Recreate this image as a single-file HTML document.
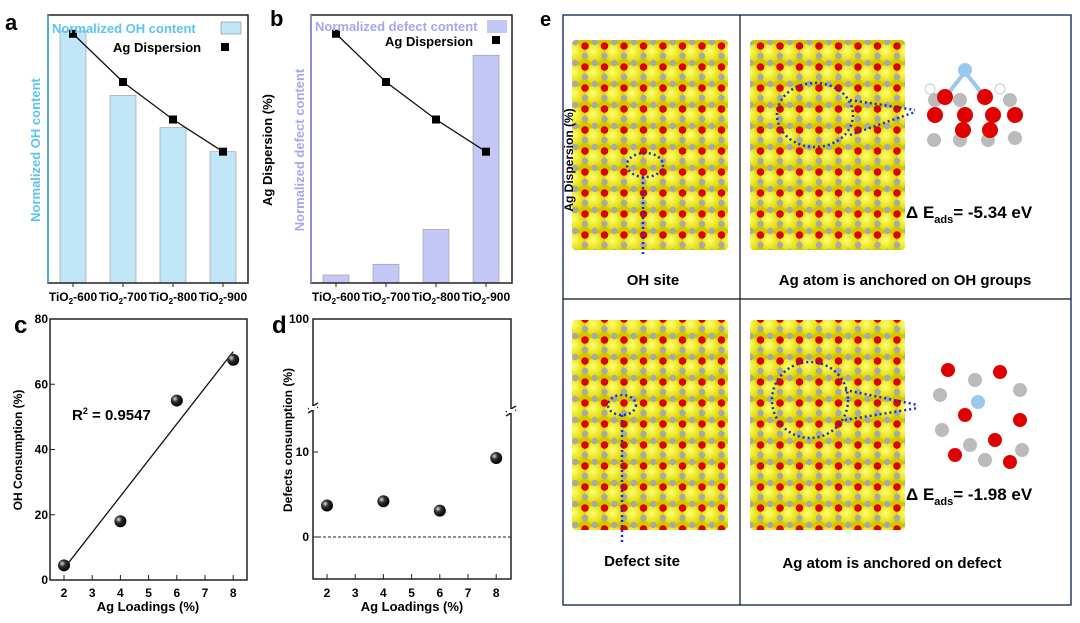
<!DOCTYPE html>
<html><head><meta charset="utf-8"><style>
html,body{margin:0;padding:0;background:#fff}
svg{display:block;font-family:"Liberation Sans",Arial,sans-serif}
</style></head><body>
<svg id="s" width="1080" height="623" viewBox="0 0 1080 623" xmlns="http://www.w3.org/2000/svg">
<defs>
<radialGradient id="ball" cx="35%" cy="35%" r="65%"><stop offset="0" stop-color="#ddd"/><stop offset="0.4" stop-color="#333"/><stop offset="1" stop-color="#000"/></radialGradient>
<radialGradient id="yel" cx="40%" cy="40%" r="60%"><stop offset="0" stop-color="#ffff70"/><stop offset="1" stop-color="#e0d800"/></radialGradient>
<pattern id="slab" x="0" y="0" width="19.5" height="21" patternUnits="userSpaceOnUse">
<rect width="19.5" height="21" fill="#cfc800"/>
<circle cx="9.75" cy="11" r="9.5" fill="url(#yel)"/>
<circle cx="0" cy="4" r="3.8" fill="#e00000"/>
<circle cx="19.5" cy="4" r="3.8" fill="#e00000"/>
<circle cx="0" cy="14" r="3.2" fill="#a8a8a8"/>
<circle cx="19.5" cy="14" r="3.2" fill="#a8a8a8"/>
<circle cx="9.75" cy="0" r="3.2" fill="#a8a8a8"/>
<circle cx="9.75" cy="21" r="3.2" fill="#a8a8a8"/>
</pattern>
</defs>

<!-- Panel a -->
<g>
<text x="5" y="30" font-size="22" font-weight="bold">a</text>
<g id="a-bars"></g>
<rect x="48" y="15" width="200" height="268" fill="none" stroke="#222" stroke-width="1.5"/>
<line x1="48" y1="15" x2="48" y2="283" stroke="#3bb0e8" stroke-width="1.5"/>
<g id="a-line"></g>
<text x="52" y="33" font-size="13" font-weight="bold" fill="#5cc4f0">Normalized OH content</text>
<rect x="221" y="22" width="20" height="12" fill="#c0e6f8" stroke="#888" stroke-width="0.6"/>
<text x="113" y="52" font-size="13" font-weight="bold">Ag Dispersion</text>
<rect x="221" y="43" width="8" height="8" fill="#000"/>
<text transform="translate(40,150) rotate(-90)" text-anchor="middle" font-size="13" font-weight="bold" fill="#5cc4f0">Normalized OH content</text>
<text transform="translate(272,150) rotate(-90)" text-anchor="middle" font-size="13" font-weight="bold">Ag Dispersion (%)</text>
<g id="a-xt" font-size="12" font-weight="bold" text-anchor="middle"></g>
</g>

<!-- Panel b -->
<g>
<text x="270" y="26" font-size="22" font-weight="bold">b</text>
<g id="b-bars"></g>
<rect x="311" y="15" width="201" height="268" fill="none" stroke="#222" stroke-width="1.5"/>
<line x1="311" y1="15" x2="311" y2="283" stroke="#8d8df0" stroke-width="1.5"/>
<g id="b-line"></g>
<text x="315" y="31" font-size="13" font-weight="bold" fill="#a6a6f2">Normalized defect content</text>
<rect x="487" y="20" width="20" height="13" fill="#c4c8f6"/>
<text x="385" y="46" font-size="13" font-weight="bold">Ag Dispersion</text>
<rect x="492" y="36" width="8" height="8" fill="#000"/>
<text transform="translate(304,150) rotate(-90)" text-anchor="middle" font-size="13" font-weight="bold" fill="#a6a6f2">Normalized defect content</text>
<g id="b-xt" font-size="12" font-weight="bold" text-anchor="middle"></g>
</g>

<!-- Panel c -->
<g>
<text x="14" y="333" font-size="24" font-weight="bold">c</text>
<rect x="50" y="319" width="197" height="261" fill="none" stroke="#222" stroke-width="1.5"/>
<g id="c-ax" font-size="12" font-weight="bold"></g>
<g id="c-marks"></g>
<text x="72" y="420" font-size="15" font-weight="bold">R<tspan dy="-6" font-size="9">2</tspan><tspan dy="6"> = 0.9547</tspan></text>
<text transform="translate(22,450) rotate(-90)" text-anchor="middle" font-size="12" font-weight="bold">OH Consumption (%)</text>
<text x="148" y="611" text-anchor="middle" font-size="13" font-weight="bold">Ag Loadings (%)</text>
</g>

<!-- Panel d -->
<g>
<text x="272" y="333" font-size="24" font-weight="bold">d</text>
<rect x="313" y="319" width="198" height="260" fill="none" stroke="#222" stroke-width="1.5"/>
<line x1="308" y1="409" x2="318" y2="403" stroke="#222" stroke-width="1.5"/><line x1="308" y1="413" x2="318" y2="407" stroke="#222" stroke-width="1.5"/>
<line x1="506" y1="412" x2="516" y2="406" stroke="#222" stroke-width="1.5"/><line x1="506" y1="416" x2="516" y2="410" stroke="#222" stroke-width="1.5"/>
<rect x="309" y="406" width="8" height="4" fill="#fff"/><rect x="507" y="409" width="8" height="4" fill="#fff"/>
<g id="d-ax" font-size="12" font-weight="bold"></g>
<g id="d-marks"></g>
<text transform="translate(292,440) rotate(-90)" text-anchor="middle" font-size="12" font-weight="bold">Defects consumption (%)</text>
<text x="412" y="611" text-anchor="middle" font-size="13" font-weight="bold">Ag Loadings (%)</text>
</g>

<!-- Panel e -->
<g>
<text x="540" y="26" font-size="20" font-weight="bold">e</text>
<rect x="563" y="15" width="508" height="590" fill="none" stroke="#2a3a6a" stroke-width="1.5"/>
<line x1="740" y1="15" x2="740" y2="605" stroke="#111" stroke-width="1.2"/>
<line x1="563" y1="299" x2="1071" y2="299" stroke="#111" stroke-width="1.2"/>
<rect x="572" y="40" width="156" height="210" fill="url(#slab)" rx="4"/>
<rect x="750" y="40" width="155" height="210" fill="url(#slab)" rx="4"/>
<rect x="572" y="320" width="156" height="210" fill="url(#slab)" rx="4"/>
<rect x="750" y="320" width="155" height="210" fill="url(#slab)" rx="4"/>
<text transform="translate(573,160) rotate(-90)" text-anchor="middle" font-size="12" font-weight="bold">Ag Dispersion (%)</text>
<g fill="none" stroke="#1a2fd0" stroke-width="2.5" stroke-dasharray="2,3">
<ellipse cx="645" cy="165" rx="18" ry="12"/><line x1="643" y1="177" x2="643" y2="255"/>
<ellipse cx="815" cy="115" rx="38" ry="32"/><line x1="850" y1="100" x2="915" y2="110"/><line x1="850" y1="135" x2="915" y2="112"/>
<ellipse cx="622" cy="405" rx="14" ry="10"/><line x1="622" y1="415" x2="622" y2="545"/>
<ellipse cx="810" cy="400" rx="38" ry="38"/><line x1="845" y1="390" x2="918" y2="405"/><line x1="845" y1="420" x2="918" y2="408"/>
</g>
<g>
<line x1="943" y1="100" x2="965" y2="72" stroke="#9cc8ec" stroke-width="4"/><line x1="987" y1="100" x2="965" y2="72" stroke="#9cc8ec" stroke-width="4"/>
<circle cx="935" cy="100" r="7" fill="#bbb"/><circle cx="960" cy="100" r="7" fill="#bbb"/><circle cx="1010" cy="100" r="7" fill="#bbb"/>
<circle cx="934" cy="140" r="7" fill="#bbb"/><circle cx="960" cy="140" r="7" fill="#bbb"/><circle cx="988" cy="140" r="7" fill="#bbb"/><circle cx="1015" cy="138" r="7" fill="#bbb"/>
<circle cx="935" cy="115" r="8" fill="#e00000"/><circle cx="965" cy="115" r="8" fill="#e00000"/><circle cx="993" cy="115" r="8" fill="#e00000"/><circle cx="1015" cy="115" r="8" fill="#e00000"/>
<circle cx="963" cy="130" r="8" fill="#e00000"/><circle cx="990" cy="130" r="8" fill="#e00000"/>
<circle cx="945" cy="97" r="8" fill="#e00000"/><circle cx="985" cy="97" r="8" fill="#e00000"/>
<circle cx="930" cy="89" r="5" fill="#fff" stroke="#ccc"/><circle cx="1000" cy="89" r="5" fill="#fff" stroke="#ccc"/>
<circle cx="965" cy="70" r="7" fill="#9cc8ec"/>
</g>
<g>
<circle cx="948" cy="370" r="7" fill="#e00000"/><circle cx="975" cy="380" r="7" fill="#bbb"/><circle cx="1000" cy="372" r="7" fill="#e00000"/><circle cx="1020" cy="390" r="7" fill="#bbb"/>
<circle cx="940" cy="395" r="7" fill="#bbb"/><circle cx="965" cy="415" r="7" fill="#e00000"/><circle cx="1020" cy="420" r="7" fill="#e00000"/>
<circle cx="942" cy="430" r="7" fill="#bbb"/><circle cx="970" cy="445" r="7" fill="#bbb"/><circle cx="995" cy="440" r="7" fill="#e00000"/><circle cx="1022" cy="450" r="7" fill="#bbb"/>
<circle cx="955" cy="455" r="7" fill="#e00000"/><circle cx="1010" cy="462" r="7" fill="#e00000"/><circle cx="985" cy="460" r="7" fill="#bbb"/>
<circle cx="978" cy="402" r="7" fill="#9cc8ec"/>
</g>
<text x="653" y="285" text-anchor="middle" font-size="15" font-weight="bold">OH site</text>
<text x="905" y="285" text-anchor="middle" font-size="15" font-weight="bold">Ag atom is anchored on OH groups</text>
<text x="906" y="218" font-size="17" font-weight="bold">Δ E<tspan dy="5" font-size="11">ads</tspan><tspan dy="-5">= -5.34 eV</tspan></text>
<text x="642" y="566" text-anchor="middle" font-size="15" font-weight="bold">Defect site</text>
<text x="892" y="568" text-anchor="middle" font-size="15" font-weight="bold">Ag atom is anchored on defect</text>
<text x="906" y="500" font-size="17" font-weight="bold">Δ E<tspan dy="5" font-size="11">ads</tspan><tspan dy="-5">= -1.98 eV</tspan></text>
</g>
</svg>
<script>
const NS='http://www.w3.org/2000/svg';
const samples=['TiO2-600','TiO2-700','TiO2-800','TiO2-900'];
const ohContent=[0.94,0.70,0.58,0.49];
const defectContent=[0.03,0.07,0.20,0.85];
const agDispersion=[0.93,0.75,0.61,0.49];
const loadings=[2,4,6,8];
const ohConsumption=[4.5,18,55,67.5];
const fitLine=[3.5,70];
const defectsConsumption=[3.7,4.2,3.1,9.3];
const cYTicks=[0,20,40,60,80];
const xTicks=[2,3,4,5,6,7,8];
const dYTicks=[0,10];

function mk(p,tag,at){const e=document.createElementNS(NS,tag);for(const k in at)e.setAttribute(k,at[k]);document.getElementById(p).appendChild(e);return e;}
function pxA(i,x0){return x0+25+i*50;}
const yFrac=v=>283-v*268;
function bars(pid,vals,fill,x0,name){vals.forEach((v,i)=>{const r=mk(pid,'rect',{x:pxA(i,x0)-13,y:yFrac(v),width:26,height:283-yFrac(v),fill:fill,stroke:'#999','stroke-width':0.6});

});}
function dline(pid,x0){const pts=agDispersion.map((v,i)=>pxA(i,x0)+','+yFrac(v)).join(' ');
mk(pid,'polyline',{points:pts,fill:'none',stroke:'#111','stroke-width':1.3});
agDispersion.forEach((v,i)=>{const r=mk(pid,'rect',{x:pxA(i,x0)-4,y:yFrac(v)-4,width:8,height:8,fill:'#000'});

});}
function xt(pid,x0){samples.forEach((s,i)=>{const t=mk(pid,'text',{x:pxA(i,x0),y:301});t.innerHTML='TiO<tspan font-size="8" dy="3">2</tspan><tspan dy="-3">-'+s.split('-')[1]+'</tspan>';


mk(pid,'line',{x1:pxA(i,x0),x2:pxA(i,x0),y1:283,y2:287,stroke:'#222'});});}
bars('a-bars',ohContent,'#c0e6f8',48,'bar-oh');dline('a-line',48);xt('a-xt',48);
bars('b-bars',defectContent,'#c4c8f6',311,'bar-defect');dline('b-line',311);xt('b-xt',311);

const cx=v=>64+(v-2)*28.2, cy=v=>580-v*3.2625;
cYTicks.forEach(v=>{const t=mk('c-ax','text',{x:48,y:cy(v)+4,'text-anchor':'end'});t.textContent=v;


mk('c-ax','line',{x1:50,x2:55,y1:cy(v),y2:cy(v),stroke:'#222'});});
xTicks.forEach(v=>{const t=mk('c-ax','text',{x:cx(v),y:597,'text-anchor':'middle'});t.textContent=v;


mk('c-ax','line',{x1:cx(v),x2:cx(v),y1:580,y2:575,stroke:'#222'});});
mk('c-marks','line',{x1:cx(loadings[0]),y1:cy(fitLine[0]),x2:cx(loadings[3]),y2:cy(fitLine[1]),stroke:'#111','stroke-width':1.3});
ohConsumption.forEach((v,i)=>{const c=mk('c-marks','circle',{cx:cx(loadings[i]),cy:cy(v),r:6,fill:'url(#ball)'});

});

const dx=v=>327+(v-2)*28.2, dy=v=>537-v*8.5;
dYTicks.forEach(v=>{const t=mk('d-ax','text',{x:309,y:dy(v)+4,'text-anchor':'end'});t.textContent=v;


mk('d-ax','line',{x1:313,x2:318,y1:dy(v),y2:dy(v),stroke:'#222'});});
{const t=mk('d-ax','text',{x:309,y:323,'text-anchor':'end'});t.textContent='100';

}
xTicks.forEach(v=>{const t=mk('d-ax','text',{x:dx(v),y:597,'text-anchor':'middle'});t.textContent=v;


mk('d-ax','line',{x1:dx(v),x2:dx(v),y1:579,y2:574,stroke:'#222'});});
mk('d-marks','line',{x1:313,x2:511,y1:dy(0),y2:dy(0),stroke:'#222','stroke-dasharray':'3,2'});
defectsConsumption.forEach((v,i)=>{const c=mk('d-marks','circle',{cx:dx(loadings[i]),cy:dy(v),r:6,fill:'url(#ball)'});

});
</script>
</body></html>
